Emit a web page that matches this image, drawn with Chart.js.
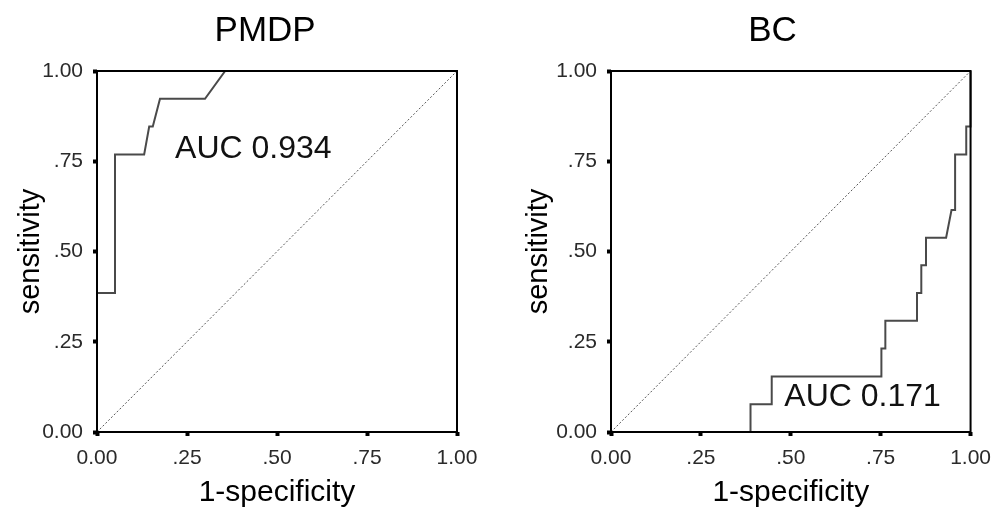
<!DOCTYPE html>
<html>
<head>
<meta charset="utf-8">
<script src="https://cdn.jsdelivr.net/npm/chart.js@4.4.0/dist/chart.umd.min.js"></script>
<style>
    html, body { margin: 0; padding: 0; background: #fff; overflow: hidden; }
    body { width: 1001px; height: 512px; position: relative; }
    .panel { position: absolute; top: 0; height: 512px; }
    #panel-pmdp { left: 0; width: 500px; }
    #panel-bc { left: 500px; width: 501px; }
</style>
</head>
<body>
<div class="panel" id="panel-pmdp"><canvas id="roc-pmdp"></canvas></div>
<div class="panel" id="panel-bc"><canvas id="roc-bc"></canvas></div>
<script>
const tickValues = [0, 0.25, 0.5, 0.75, 1];
const tickLabels = ['0.00', '.25', '.50', '.75', '1.00'];

const pmdpFpr = [0, 0, 0.05, 0.05, 0.131, 0.145, 0.155, 0.175, 0.30, 0.356, 1];
const pmdpTpr = [0, 0.385, 0.385, 0.769, 0.769, 0.846, 0.846, 0.923, 0.923, 1, 1];
const pmdpAuc = 'AUC 0.934';

const bcFpr = [0, 0.388, 0.388, 0.447, 0.447, 0.752, 0.752, 0.763, 0.763, 0.851, 0.851, 0.863, 0.863, 0.876, 0.876, 0.932, 0.947, 0.957, 0.957, 0.988, 0.988, 1, 1];
const bcTpr = [0, 0, 0.077, 0.077, 0.154, 0.154, 0.231, 0.231, 0.308, 0.308, 0.385, 0.385, 0.462, 0.462, 0.538, 0.538, 0.615, 0.615, 0.769, 0.769, 0.846, 0.846, 1];
const bcAuc = 'AUC 0.171';

const referenceLine = [0, 1];

const FONT = '"Liberation Sans", Arial, sans-serif';

// marco del area, titulo y texto AUC
const rocDecor = {
    id: 'rocDecor',
    afterDatasetsDraw(chart, args, opts) {
        const { ctx, chartArea: a, scales } = chart;
        ctx.save();
        ctx.strokeStyle = '#000';
        ctx.lineWidth = 2;
        ctx.strokeRect(a.left, a.top, a.right - a.left, a.bottom - a.top);

        ctx.textBaseline = 'middle';
        ctx.fillStyle = '#000';
        ctx.font = '35px ' + FONT;
        ctx.textAlign = 'center';
        ctx.fillText(opts.title, scales.x.getPixelForValue(opts.titleX), a.top - 40);

        ctx.fillStyle = '#111';
        ctx.font = '32px ' + FONT;
        ctx.textAlign = 'left';
        ctx.fillText(opts.text, scales.x.getPixelForValue(opts.x), scales.y.getPixelForValue(opts.y));
        ctx.restore();
    }
};

function toPoints(xs, ys) {
    return xs.map((x, i) => ({ x: x, y: ys[i] }));
}

function crearRoc(canvasId, fpr, tpr, decor, yAxisWidth, yTitlePad, rightPad) {
    const ctx = document.getElementById(canvasId).getContext('2d');

    const data = {
        datasets: [{
            data: toPoints(fpr, tpr),
            borderColor: '#4a4a4a',
            borderWidth: 2,
            pointRadius: 0,
            tension: 0,
            clip: 4
        }, {
            data: toPoints(referenceLine, referenceLine),
            borderColor: '#555',
            borderWidth: 1,
            borderDash: [2, 2],
            pointRadius: 0,
            clip: 4
        }]
    };

    const ejeComun = {
        type: 'linear',
        min: 0,
        max: 1,
        border: { display: false },
        grid: {
            drawOnChartArea: false,
            drawTicks: true,
            tickLength: 4,
            tickWidth: 4,
            color: '#000'
        },
        ticks: {
            stepSize: 0.25,
            padding: 10,
            color: '#2a2a2a',
            font: { family: FONT, size: 21 },
            callback: function(value) {
                const i = tickValues.indexOf(value);
                return i >= 0 ? tickLabels[i] : '';
            }
        }
    };

    const config = {
        type: 'line',
        data,
        options: {
            responsive: true,
            maintainAspectRatio: false,
            animation: false,
            layout: { padding: { left: 0, right: rightPad, top: 71, bottom: 0 } },
            plugins: {
                legend: { display: false },
                tooltip: { enabled: false },
                title: { display: false },
                rocDecor: decor
            },
            scales: {
                x: Object.assign({}, ejeComun, {
                    position: 'bottom',
                    title: {
                        display: true,
                        text: '1-specificity',
                        color: '#000',
                        font: { family: FONT, size: 30, lineHeight: 1 },
                        padding: { top: 0, bottom: 4 }
                    },
                    afterFit: function(scale) { scale.height = 80; }
                }),
                y: Object.assign({}, ejeComun, {
                    position: 'left',
                    title: {
                        display: true,
                        text: 'sensitivity',
                        color: '#000',
                        font: { family: FONT, size: 29, lineHeight: 1 },
                        padding: { top: yTitlePad, bottom: 0 }
                    },
                    afterFit: function(scale) { scale.width = yAxisWidth; }
                })
            }
        },
        plugins: [rocDecor]
    };

    return new Chart(ctx, config);
}

crearRoc('roc-pmdp', pmdpFpr, pmdpTpr,
    { title: 'PMDP', titleX: 0.467, text: pmdpAuc, x: 0.217, y: 0.784 }, 97, 16, 43);
crearRoc('roc-bc', bcFpr, bcTpr,
    { title: 'BC', titleX: 0.449, text: bcAuc, x: 0.482, y: 0.097 }, 111, 24, 29);
</script>
</body>
</html>
